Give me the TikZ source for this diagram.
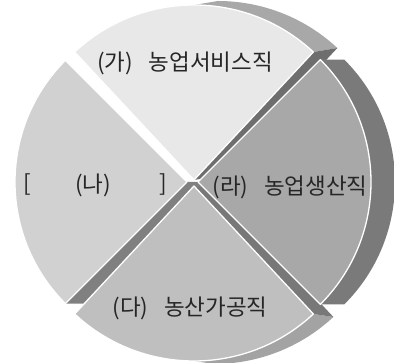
\documentclass[tikz,border=0pt]{standalone}
\usepackage{fontspec}
\newfontfamily\kr{Noto Sans CJK KR}
\begin{document}
\begin{tikzpicture}[x=1pt,y=1pt,
  face/.style={draw=white,line width=1.3pt,line join=round},
  lbl/.style={font=\kr\fontsize{22.5}{26}\selectfont,text=black!85,inner sep=0pt}]
\useasboundingbox (0,0) rectangle (394,363);
\coordinate (na) at (187,181);
\coordinate (ga) at (194,183);
\coordinate (da) at (194,177);
\coordinate (ra) at (198,181);
\fill[black!50] (na) -- ++(225:172) -- ++(24,0) -- ++(45:172) -- cycle;
\filldraw[face,fill=black!18] (na) -- ++(135:172) arc[start angle=135,end angle=225,radius=172] -- cycle;
\fill[black!34] (ga) ++(90:175) arc[start angle=90,end angle=47,radius=175] -- ++(24,4) arc[start angle=47,end angle=90,radius=175] -- cycle;
\fill[black!57] (ga) -- ++(47:175) -- ++(24,4) -- ++(227:175) -- cycle;
\filldraw[face,fill=black!9] (ga) -- ++(47:175) arc[start angle=47,end angle=133,radius=175] -- cycle;
\fill[black!36] (da) ++(270:175) arc[start angle=270,end angle=313,radius=175] -- ++(20,-3) arc[start angle=313,end angle=270,radius=175] -- cycle;
\fill[black!53] (da) -- ++(313:175) -- ++(20,-3) -- ++(133:175) -- cycle;
\filldraw[face,fill=black!25] (da) -- ++(227:175) arc[start angle=227,end angle=313,radius=175] -- cycle;
\fill[black!52] (ra) ++(-45:173) arc[start angle=-45,end angle=45,radius=173] -- ++(24,0) arc[start angle=45,end angle=-45,radius=173] -- cycle;
\filldraw[face,fill=black!34] (ra) -- ++(-45:173) arc[start angle=-45,end angle=45,radius=173] -- cycle;
\node[lbl] (gaLbl) at (185,300) {(가)\hspace{0.7em}농업서비스직};
\node[lbl] (naOpen) at (27,178) {[};
\node[lbl] (naLbl) at (93,178) {(나)};
\node[lbl] (naClose) at (163,178) {]};
\node[lbl] (raLbl) at (290,176) {(라)\hspace{0.7em}농업생산직};
\node[lbl] (daLbl) at (190,55) {(다)\hspace{0.7em}농산가공직};
\end{tikzpicture}
\end{document}
